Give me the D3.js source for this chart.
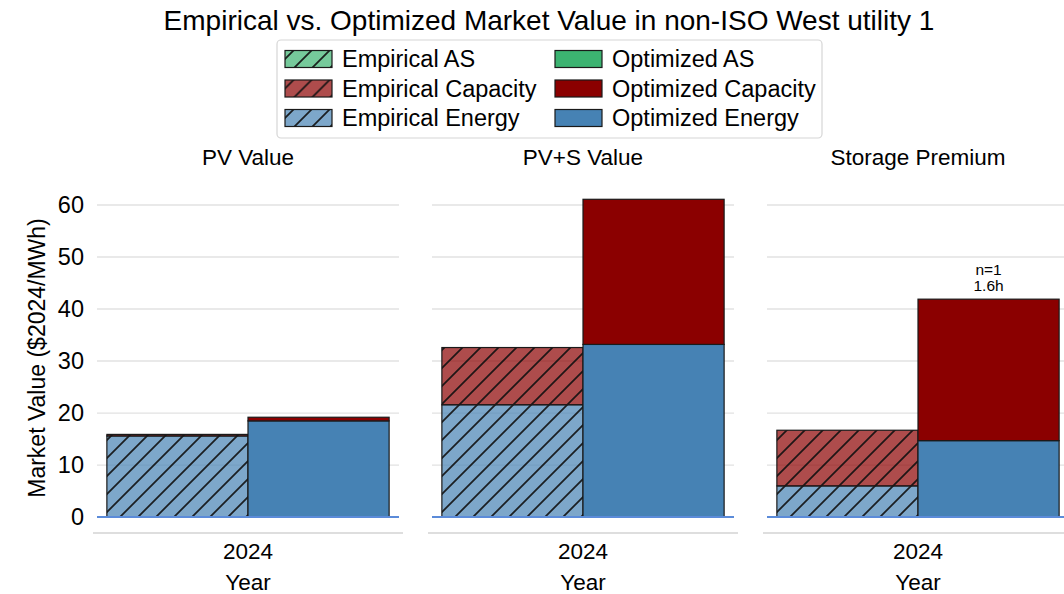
<!DOCTYPE html>
<html>
<head>
<meta charset="utf-8">
<script src="https://cdn.jsdelivr.net/npm/d3@7"></script>
<style>
  body { margin: 0; background: #fff; }
  svg { display: block; font-family: "Liberation Sans", Arial, sans-serif; }
</style>
</head>
<body>
<div id="chart"></div>
<script>
// données
const panels = ["PV Value", "PV+S Value", "Storage Premium"];
const years = ["2024"];
const yTicks = [0, 10, 20, 30, 40, 50, 60];

const empiricalEnergy = [15.6, 21.6, 6.0];
const empiricalCapacity = [0.3, 11.0, 10.7];
const empiricalAS = [0, 0, 0];
const optimizedEnergy = [18.5, 33.2, 14.7];
const optimizedCapacity = [0.7, 27.9, 27.2];
const optimizedAS = [0, 0, 0];

const annotations = ["", "", "n=1\n1.6h"];

// couleurs
const colors = { Energy: "#4682b4", Capacity: "#8b0000", AS: "#3cb371" };

const width = 1064, height = 594;
const panelLeft = [97, 432, 767], panelWidth = 302;

const svg = d3.select("#chart").append("svg")
    .attr("width", width)
    .attr("height", height);

// motif hachuré
const defs = svg.append("defs");
const pat = defs.append("pattern")
    .attr("id", "hatch")
    .attr("patternUnits", "userSpaceOnUse")
    .attr("width", 18).attr("height", 18);
pat.append("path")
    .attr("d", "M-4.5,4.5 L4.5,-4.5 M0,18 L18,0 M13.5,22.5 L22.5,13.5")
    .attr("stroke", "#111").attr("stroke-opacity", 0.9)
    .attr("stroke-width", 1.8);

const y = d3.scaleLinear()
    .domain([-3.055, 64.155])
    .range([533, 183.4]);

const x = d3.scaleLinear()
    .domain([-0.428, 0.428])
    .range([0, panelWidth]);

// titre
svg.append("text")
    .attr("x", 549).attr("y", 30)
    .attr("text-anchor", "middle")
    .style("font-size", "28px")
    .text("Empirical vs. Optimized Market Value in non-ISO West utility 1");

// label axe y
svg.append("text")
    .attr("transform", "translate(37,358) rotate(-90)")
    .attr("text-anchor", "middle")
    .attr("dominant-baseline", "central")
    .style("font-size", "23px")
    .text("Market Value ($2024/MWh)");

panels.forEach((name, i) => {
    const g = svg.append("g").attr("transform", `translate(${panelLeft[i]},0)`);

    // grille
    g.append("g").selectAll("line")
        .data(yTicks)
        .join("line")
        .attr("x1", 0).attr("x2", panelWidth)
        .attr("y1", d => y(d)).attr("y2", d => y(d))
        .attr("stroke", "#e2e2e2").attr("stroke-width", 1.4);

    // bas de l'axe
    g.append("line")
        .attr("x1", -4).attr("x2", panelWidth + 4)
        .attr("y1", y.range()[0]).attr("y2", y.range()[0])
        .attr("stroke", "#dedede").attr("stroke-width", 2.2);

    if (i === 0) {
        g.append("g").selectAll("text")
            .data(yTicks)
            .join("text")
            .attr("x", -13).attr("y", d => y(d))
            .attr("text-anchor", "end")
            .attr("dominant-baseline", "central")
            .style("font-size", "23.5px")
            .text(d => d);
    }

    // titre du panneau
    g.append("text")
        .attr("x", panelWidth / 2).attr("y", 165)
        .attr("text-anchor", "middle")
        .style("font-size", "22.5px")
        .text(name);

    // barres empilées
    const stacks = [
        { x0: -0.4, x1: 0, hatch: true, parts: [["Energy", empiricalEnergy[i]], ["Capacity", empiricalCapacity[i]], ["AS", empiricalAS[i]]] },
        { x0: 0, x1: 0.4, hatch: false, parts: [["Energy", optimizedEnergy[i]], ["Capacity", optimizedCapacity[i]], ["AS", optimizedAS[i]]] }
    ];

    stacks.forEach(s => {
        let base = 0;
        const segs = s.parts.map(([k, v]) => {
            const seg = { k, v, b: base };
            base += v;
            return seg;
        }).filter(d => d.v > 0);

        const bars = g.append("g").selectAll("g")
            .data(segs)
            .join("g");

        bars.append("rect")
            .attr("x", x(s.x0)).attr("width", x(s.x1) - x(s.x0))
            .attr("y", d => y(d.b + d.v))
            .attr("height", d => y(d.b) - y(d.b + d.v))
            .attr("fill", d => colors[d.k])
            .attr("fill-opacity", s.hatch ? 0.7 : 1);

        if (s.hatch) {
            bars.append("rect")
                .attr("x", x(s.x0)).attr("width", x(s.x1) - x(s.x0))
                .attr("y", d => y(d.b + d.v))
                .attr("height", d => y(d.b) - y(d.b + d.v))
                .attr("fill", "url(#hatch)");
        }

        bars.append("rect")
            .attr("x", x(s.x0)).attr("width", x(s.x1) - x(s.x0))
            .attr("y", d => y(d.b + d.v))
            .attr("height", d => y(d.b) - y(d.b + d.v))
            .attr("fill", "none")
            .attr("stroke", "#1a1a1a")
            .attr("stroke-width", 1.2);

        if (!s.hatch && annotations[i]) {
            const t = g.append("text")
                .attr("text-anchor", "middle")
                .style("font-size", "15.5px");
            annotations[i].split("\n").forEach((line, j, arr) => {
                t.append("tspan")
                    .attr("x", x((s.x0 + s.x1) / 2))
                    .attr("y", y(base) - 8 - (arr.length - 1 - j) * 16)
                    .text(line);
            });
        }
    });

    // ligne du zéro
    g.append("line")
        .attr("x1", 0).attr("x2", panelWidth)
        .attr("y1", y(0)).attr("y2", y(0))
        .attr("stroke", "#5b8bd9").attr("stroke-width", 2);

    // axe x
    g.append("g").selectAll("text")
        .data(years)
        .join("text")
        .attr("x", x(0)).attr("y", 559)
        .attr("text-anchor", "middle")
        .style("font-size", "22.5px")
        .text(d => d);

    g.append("text")
        .attr("x", x(0)).attr("y", 590)
        .attr("text-anchor", "middle")
        .style("font-size", "22.5px")
        .text("Year");
});

// légende
const legend = svg.append("g");
legend.append("rect")
    .attr("x", 277).attr("y", 40)
    .attr("width", 545).attr("height", 98)
    .attr("rx", 4)
    .attr("fill", "#fff")
    .attr("stroke", "#d6d6d6").attr("stroke-width", 1.2);

const legendItems = [
    { label: "Empirical AS", k: "AS", hatch: true, col: 0, row: 0 },
    { label: "Empirical Capacity", k: "Capacity", hatch: true, col: 0, row: 1 },
    { label: "Empirical Energy", k: "Energy", hatch: true, col: 0, row: 2 },
    { label: "Optimized AS", k: "AS", hatch: false, col: 1, row: 0 },
    { label: "Optimized Capacity", k: "Capacity", hatch: false, col: 1, row: 1 },
    { label: "Optimized Energy", k: "Energy", hatch: false, col: 1, row: 2 }
];
const colX = [285, 555], rowY = [59, 88.5, 118];

const li = legend.selectAll("g.item")
    .data(legendItems)
    .join("g")
    .attr("class", "item")
    .attr("transform", d => `translate(${colX[d.col]},${rowY[d.row]})`);

li.append("rect")
    .attr("x", 0).attr("y", -8.5).attr("width", 47).attr("height", 17)
    .attr("fill", d => colors[d.k])
    .attr("fill-opacity", d => d.hatch ? 0.7 : 1);
li.filter(d => d.hatch).append("rect")
    .attr("x", 0).attr("y", -8.5).attr("width", 47).attr("height", 17)
    .attr("fill", "url(#hatch)");
li.append("rect")
    .attr("x", 0).attr("y", -8.5).attr("width", 47).attr("height", 17)
    .attr("fill", "none").attr("stroke", "#1a1a1a").attr("stroke-width", 1.2);
li.append("text")
    .attr("x", 57).attr("y", 0)
    .attr("dominant-baseline", "central")
    .style("font-size", "23.5px")
    .text(d => d.label);
</script>
</body>
</html>
